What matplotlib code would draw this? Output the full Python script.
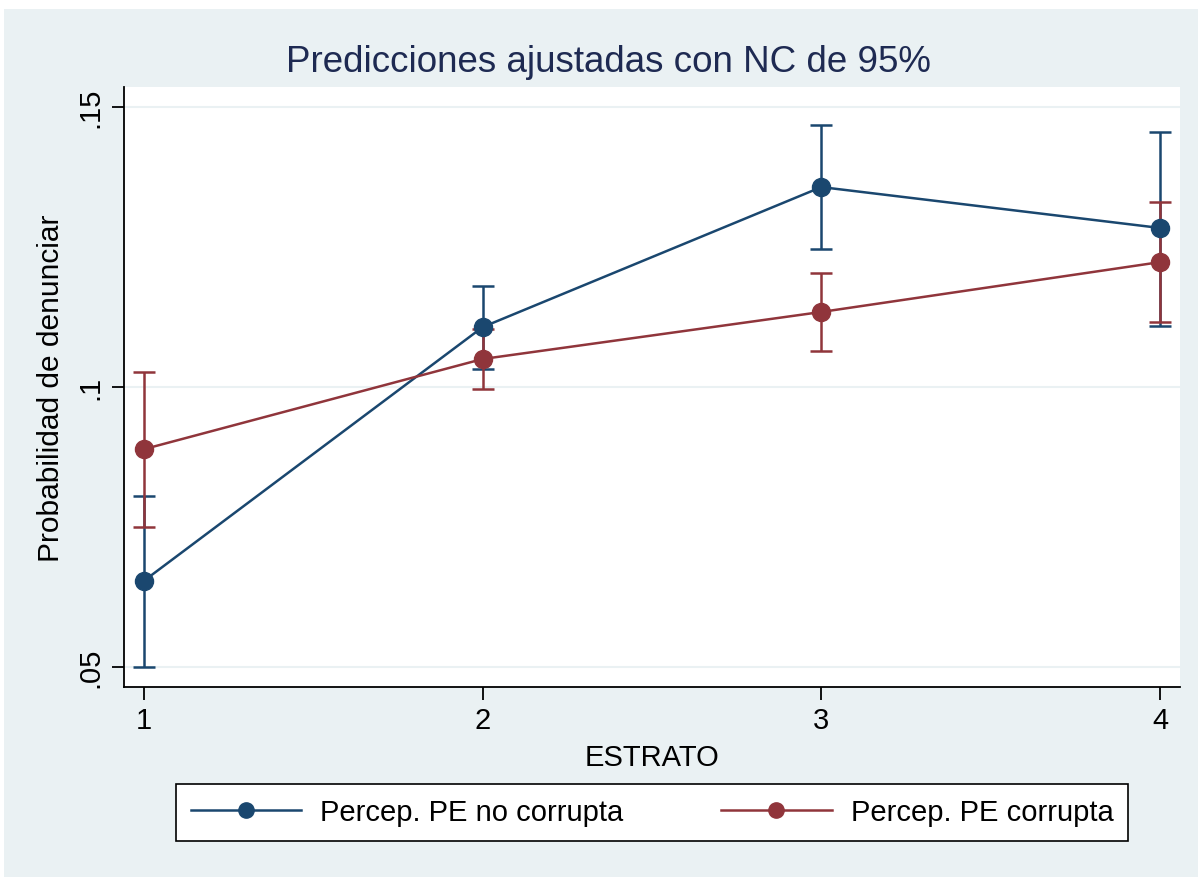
import matplotlib
matplotlib.use("Agg")
import matplotlib.pyplot as plt
from matplotlib.patches import Rectangle
from matplotlib.lines import Line2D
import numpy as np

plt.rcParams['font.family'] = ['Liberation Sans', 'DejaVu Sans']

estrato = [1, 2, 3, 4]
labels = ["Percep. PE no corrupta", "Percep. PE corrupta"]

no_corr = [0.0654, 0.1107, 0.1357, 0.1284]
no_corr_lo = [0.0500, 0.1032, 0.1246, 0.1109]
no_corr_hi = [0.0805, 0.1180, 0.1468, 0.1455]

corr = [0.0889, 0.1050, 0.1134, 0.1223]
corr_lo = [0.0750, 0.0996, 0.1064, 0.1116]
corr_hi = [0.1027, 0.1104, 0.1204, 0.1330]

yticks = [0.05, 0.10, 0.15]
ytick_labels = [".05", ".1", ".15"]

BLUE = "#1A476F"
RED = "#90353B"
BG = "#EAF1F3"

fig = plt.figure(figsize=(11.98, 8.78), dpi=100)
fig.patch.set_facecolor("white")
fig.patches.append(Rectangle((4/1198, 0), 1 - 4/1198, 1 - 10/878, transform=fig.transFigure,
                             facecolor=BG, edgecolor="none", zorder=-10))

ax = fig.add_axes([124/1198, 1 - 688/878, (1180-124)/1198, (688-88)/878])
ax.set_facecolor("white")

series = [(no_corr, no_corr_lo, no_corr_hi, BLUE, labels[0]),
          (corr, corr_lo, corr_hi, RED, labels[1])]
for i, (y, lo, hi, c, lab) in enumerate(series):
    y = np.array(y); lo = np.array(lo); hi = np.array(hi)
    ax.errorbar(estrato, y, yerr=[y - lo, hi - y], fmt="none", ecolor=c,
                elinewidth=1.8, capsize=8, capthick=1.8, zorder=2 + i * 0.1)
for i, (y, lo, hi, c, lab) in enumerate(series):
    ax.plot(estrato, y, color=c, lw=1.8, marker="o", markersize=13,
            zorder=3 + i * 0.1, label=lab)

ax.set_xlim(1 - 20/338.67, 4 + 20/338.67)
ax.set_ylim(0.05 - 20/5600, 0.15 + 20/5600)
ax.set_xticks(estrato)
ax.set_xticklabels([str(v) for v in estrato], fontsize=21)
ax.set_yticks(yticks)
ax.set_yticklabels(ytick_labels, fontsize=21, rotation=90, va="center")
ax.grid(axis="y", color=BG, lw=1.5, zorder=0)
ax.set_axisbelow(True)
for s in ["top", "right"]:
    ax.spines[s].set_visible(False)
for s in ["left", "bottom"]:
    ax.spines[s].set_linewidth(1.3)
    ax.spines[s].set_color("black")
ax.tick_params(direction="out", length=9, width=1.3, pad=5)

ax.set_xlabel("ESTRATO", fontsize=21, labelpad=6)
ax.set_ylabel("Probabilidad de denunciar", fontsize=21.5, labelpad=8)
fig.text(608/1198, 1 - 62/878, "Predicciones ajustadas con NC de 95%",
         fontsize=26.5, color="#1E2A52", ha="center", va="center")

handles = [Line2D([0], [0], color=c, lw=1.8, marker="o", markersize=11)
           for c in (BLUE, RED)]
leg = fig.legend(handles, labels, loc="center", ncol=2, mode="expand",
                 bbox_to_anchor=(176/1198, 1 - 842/878, 952/1198, 57/878),
                 fontsize=21, frameon=True, fancybox=False, handlelength=3.8,
                 borderaxespad=0, handletextpad=0.65, borderpad=0.5,
                 framealpha=1.0, facecolor="white")
leg.get_frame().set_edgecolor("black")
leg.get_frame().set_linewidth(1.2)

fig.savefig("out.png", dpi=100, facecolor=fig.get_facecolor())
